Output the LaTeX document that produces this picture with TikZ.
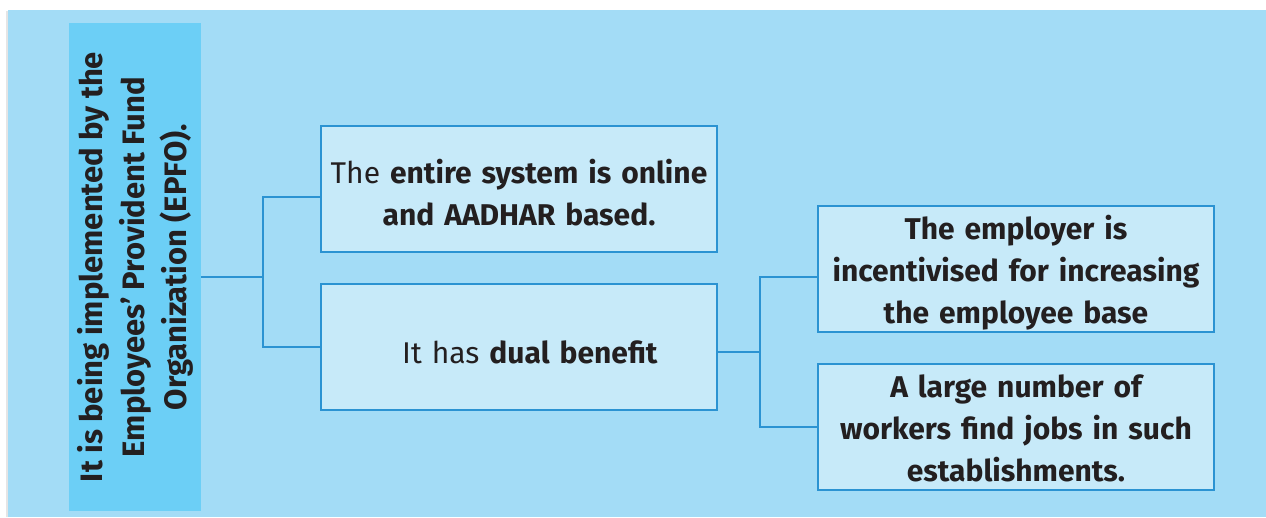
\documentclass[tikz,border=0pt]{standalone}
\usepackage{fontspec}
\setmainfont{Fira Sans}
\usetikzlibrary{positioning}

\definecolor{panelblue}{HTML}{A3DCF6}
\definecolor{sideblue}{HTML}{6CCFF6}
\definecolor{boxblue}{HTML}{C7EAF9}
\definecolor{lineblue}{HTML}{2B93D2}
\definecolor{inkgray}{HTML}{231F20}

\begin{document}
\begin{tikzpicture}[x=1pt,y=-1pt,
		infobox/.style={draw=lineblue,line width=2pt,fill=boxblue,minimum width=396pt,minimum height=126pt,
			text width=390pt,align=center,inner sep=0pt,text=inkgray,font=\fontsize{30}{42}\selectfont,
			execute at begin node={\rule{0pt}{33pt}}},
		boldbox/.style={infobox,font=\bfseries\fontsize{30}{42}\selectfont,
			execute at end node={\rule[-9pt]{0pt}{9pt}}},
		link/.style={draw=lineblue,line width=2pt,line join=miter}]
		\useasboundingbox (0,0) rectangle (1266,517);
		% panel
		\fill[black!10] (6,11) rectangle (8,517);
		\fill[panelblue] (8,10) rectangle (1266,517);
		
		\node[fill=sideblue,rotate=90,minimum width=488pt,minimum height=132pt,inner sep=0pt,align=center,
			text=inkgray,font=\bfseries\fontsize{31}{42}\selectfont] (epfo) at (135,267)
			{It is being implemented by the\\Employees’ Provident Fund\\Organization (EPFO).};
		
		\node[infobox] (online) at (519,188.5) {The \textbf{entire system is online}\\\textbf{and AADHAR based.}};
		\node[infobox] (dual) at (519,347) {\hspace*{22pt}It has \textbf{dual benefit}};
		\node[boldbox] (employer) at (1016,269) {The employer is\\incentivised for increasing\\the employee base};
		\node[boldbox] (workers) at (1016,427) {A large number of\\workers find jobs in such\\establishments.};
		
		\coordinate (j1) at (263,277);
		\coordinate (j2) at (760,352);
		\draw[link] (epfo.south |- j1) -- (j1);
		\draw[link] ([yshift=-8pt]online.west) -| (j1) |- (dual.west);
		\draw[link] (dual.east |- j2) -- (j2);
		\draw[link] ([yshift=-8pt]employer.west) -| (j2) |- (workers.west);
\end{tikzpicture}
\end{document}
